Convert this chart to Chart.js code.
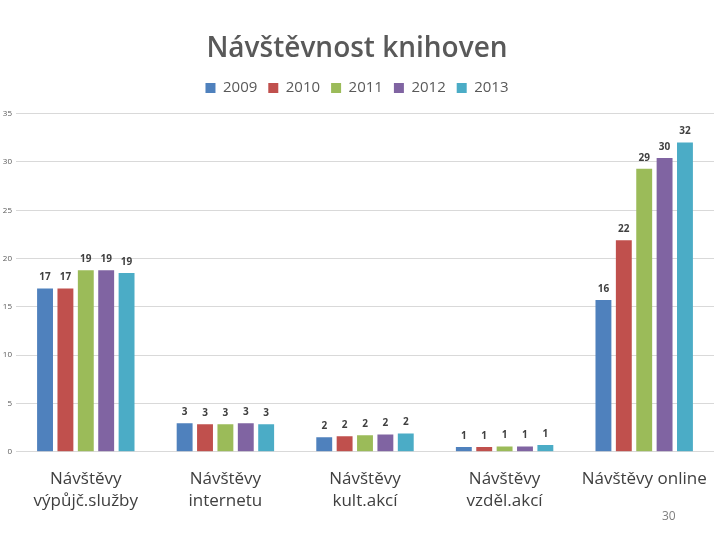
<!DOCTYPE html>
<html lang="cs">
<head>
  <meta charset="UTF-8">
  <title>Návštěvnost knihoven</title>
  <script src="https://cdn.jsdelivr.net/npm/chart.js"></script>
  <style>
    body {
      margin: 0;
      background: #ffffff;
      font-family: 'Open Sans', sans-serif;
    }
    .wrap {
      position: relative;
      width: 720px;
      height: 540px;
    }
    .page-no {
      position: absolute;
      left: 662px;
      top: 507px;
      font-size: 12px;
      color: #7f7f7f;
    }
  </style>
</head>
<body>
  <div class="wrap">
    <canvas id="chart" width="720" height="540"></canvas>
    <div class="page-no">30</div>
  </div>

  <script>
    const categories = [
      ['Návštěvy', 'výpůjč.služby'],
      ['Návštěvy', 'internetu'],
      ['Návštěvy', 'kult.akcí'],
      ['Návštěvy', 'vzděl.akcí'],
      'Návštěvy online'
    ];
    const years = ['2009', '2010', '2011', '2012', '2013'];
    const v2009 = [16.9, 2.95, 1.5, 0.5, 15.7];
    const v2010 = [16.9, 2.85, 1.6, 0.5, 21.9];
    const v2011 = [18.8, 2.85, 1.7, 0.55, 29.3];
    const v2012 = [18.8, 2.95, 1.8, 0.55, 30.4];
    const v2013 = [18.5, 2.85, 1.9, 0.7, 32.0];
    const colors = ['#4f81bd', '#c0504d', '#9bbb59', '#8064a2', '#4bacc6'];

    const series = [v2009, v2010, v2011, v2012, v2013];

    // value labels above each bar
    const barLabels = {
      id: 'barLabels',
      afterDatasetsDraw(chart) {
        const ctx = chart.ctx;
        ctx.save();
        ctx.font = 'bold 10px "Open Sans", sans-serif';
        ctx.fillStyle = '#404040';
        ctx.textAlign = 'center';
        ctx.textBaseline = 'bottom';
        chart.data.datasets.forEach((ds, i) => {
          chart.getDatasetMeta(i).data.forEach((bar, j) => {
            ctx.fillText(Math.round(ds.data[j]), bar.x, bar.y - 6);
          });
        });
        ctx.restore();
      }
    };

    // a bit more room under the legend
    const legendGap = {
      id: 'legendGap',
      beforeInit(chart) {
        const fit = chart.legend.fit;
        chart.legend.fit = function () {
          fit.bind(chart.legend)();
          this.height += 8;
        };
      }
    };

    new Chart(document.getElementById('chart'), {
      type: 'bar',
      data: {
        labels: categories,
        datasets: series.map((d, i) => ({
          label: years[i],
          data: d,
          backgroundColor: colors[i],
          categoryPercentage: 0.73,
          barPercentage: 0.78
        }))
      },
      options: {
        responsive: false,
        animation: false,
        layout: { padding: { top: 32, right: 6, bottom: 20, left: 0 } },
        plugins: {
          title: {
            display: true,
            text: 'Návštěvnost knihoven',
            color: '#595959',
            font: { size: 28, family: 'Open Sans', weight: '600' },
            padding: { top: 0, bottom: 4 }
          },
          legend: {
            labels: {
              boxWidth: 10,
              boxHeight: 10,
              padding: 11,
              color: '#595959',
              font: { size: 15, family: 'Open Sans' }
            }
          },
          tooltip: { enabled: false }
        },
        scales: {
          x: {
            grid: { display: false },
            border: { display: false },
            ticks: {
              color: '#404040',
              font: { size: 17, family: 'Open Sans', lineHeight: 1.3 },
              padding: 8,
              maxRotation: 0
            }
          },
          y: {
            min: 0,
            max: 35,
            ticks: {
              stepSize: 5,
              color: '#595959',
              font: { size: 8, family: 'Open Sans' },
              padding: 4
            },
            grid: { color: '#d9d9d9', drawTicks: false },
            border: { display: false },
            afterFit(scale) { scale.width = 16; }
          }
        }
      },
      plugins: [barLabels, legendGap]
    });
  </script>
</body>
</html>
